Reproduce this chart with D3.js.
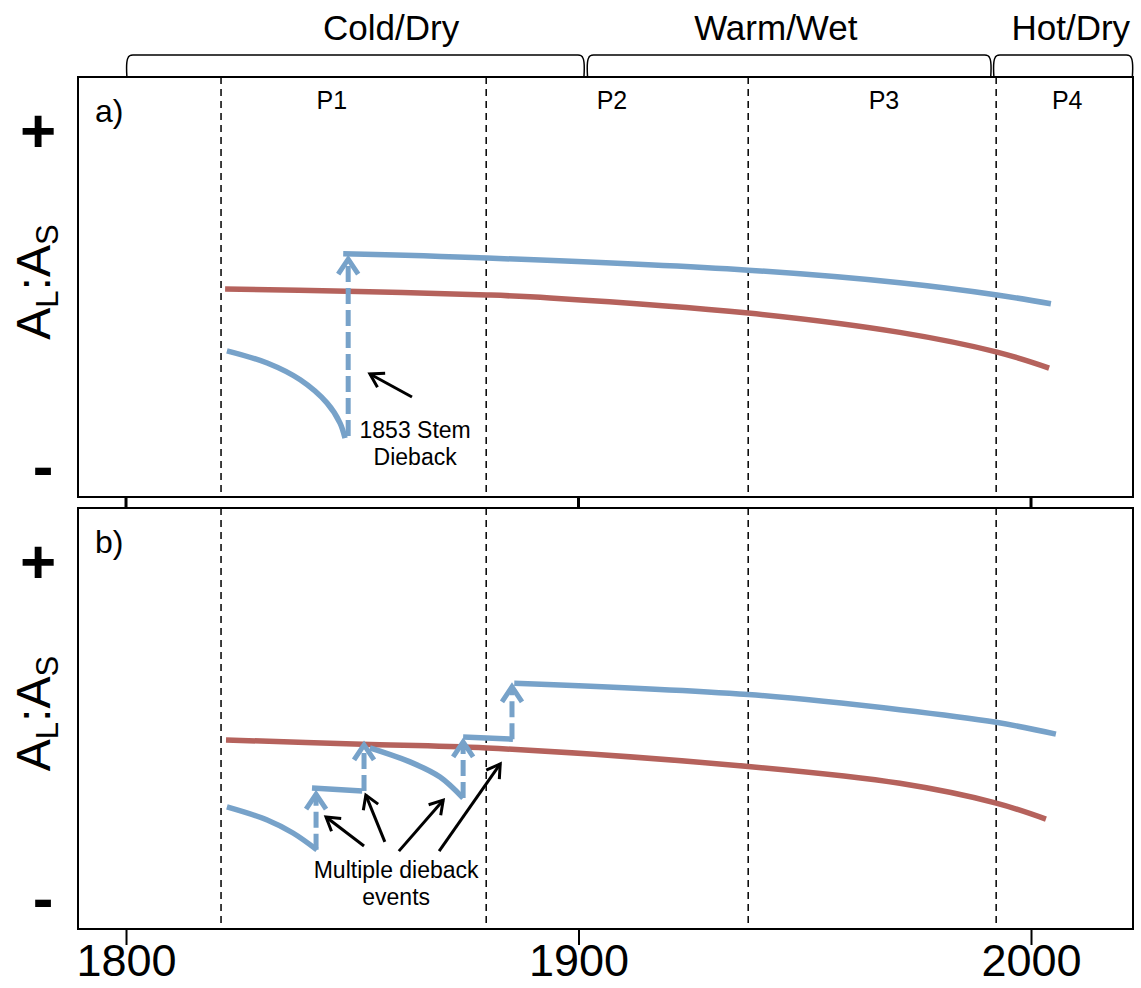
<!DOCTYPE html>
<html>
<head>
<meta charset="utf-8">
<script src="https://cdn.jsdelivr.net/npm/d3@7"></script>
<style>
  html, body { margin: 0; padding: 0; background: #fff; }
  svg { display: block; font-family: "Liberation Sans", Arial, sans-serif; }
</style>
</head>
<body>
<svg id="chart" width="1141" height="988"></svg>
<script>
// ---- data ----
const yearTicks = [1800, 1900, 2000]
const periodLines = [1821, 1879.6, 1937.5, 1992.3]
const periodNames = ['P1', 'P2', 'P3', 'P4']
const periodNameYears = [1845.5, 1907.4, 1967.5, 2008.0]

const climateNames = ['Cold/Dry', 'Warm/Wet', 'Hot/Dry']
const climateStart = [1800.2, 1902.0, 1991.8]
const climateEnd = [1901.2, 1991.1, 2022.4]
const climateNameYears = [1858.6, 1943.6, 2008.8]

// panel a) - single dieback
const redA = [[1821.9, 49.5], [1848.8, 49.0], [1879.8, 48.1], [1893.7, 47.4], [1937.5, 43.8], [1971.0, 39.2], [1992.5, 34.5], [2004.0, 30.7]]
const blueA = [
  [[1822.3, 34.8], [1831.2, 31.9], [1838.5, 27.9], [1844.4, 22.4], [1847.3, 17.6], [1848.4, 14.0]],
  [[1848.0, 57.9], [1879.8, 56.9], [1937.5, 54.0], [1971.0, 51.0], [1992.5, 48.1], [2004.4, 46.0]]
]
const diebackA = [[1849.1, 14.5, 57.1]]   // year, from, to
const notesA = [[1863.2, 23.8, 1853.9, 29.3]]   // tail year, tail val, head year, head val
const textA = ['1853 Stem', 'Dieback']
const textAPos = [[1863.9, 14.0], [1863.9, 7.6]]

// panel b) - multiple dieback events
const redB = [[1822.1, 44.9], [1852.2, 43.9], [1879.8, 43.0], [1937.5, 38.6], [1971.0, 34.6], [1992.3, 29.9], [2003.3, 26.1]]
const blueB = [
  [[1822.3, 29.0], [1831.2, 25.9], [1836.9, 22.8], [1842.2, 18.8]],
  [[1841.1, 33.5], [1852.2, 32.8]],
  [[1853.9, 43.0], [1863.4, 39.4], [1869.4, 36.1], [1874.5, 31.1]],
  [[1874.5, 45.6], [1885.5, 45.1]],
  [[1885.8, 58.4], [1937.5, 55.7], [1971.0, 52.1], [1992.3, 49.1], [2005.5, 46.3]]
]
const diebackB = [[1842.0, 18.8, 32.5], [1852.6, 32.8, 44.2], [1874.5, 31.1, 44.9], [1885.3, 45.1, 58.0]]
const notesB = [
  [1852.6, 19.7, 1844.2, 26.6],
  [1857.2, 20.7, 1853.0, 31.8],
  [1860.3, 18.5, 1870.1, 30.6],
  [1869.2, 18.5, 1882.7, 39.2]
]
const textB = ['Multiple dieback', 'events']
const textBPos = [[1859.7, 12.1], [1859.7, 5.7]]

// ---- styles ----
const BLUE = '#77a2c9'
const RED = '#b5625c'

const svg = d3.select('#chart')
svg.append('rect').attr('width', 1141).attr('height', 988).attr('fill', '#fff')

const x = d3.scaleLinear()
  .domain([1789.39, 2022.54])
  .range([78, 1133])

svg.append('defs').append('marker')
  .attr('id', 'head')
  .attr('markerUnits', 'userSpaceOnUse')
  .attr('viewBox', '-16 -10 20 20')
  .attr('markerWidth', 20).attr('markerHeight', 20)
  .attr('refX', 0).attr('refY', 0)
  .attr('orient', 'auto')
  .append('path')
  .attr('d', 'M-13,-8 L0,0 L-13,8')
  .attr('fill', 'none').attr('stroke', '#000').attr('stroke-width', 3)

// ---- climate braces on top ----
const braces = svg.append('g')
climateNames.forEach((name, i) => {
  let x0 = x(climateStart[i])
  let x1 = x(climateEnd[i])
  braces.append('path')
    .attr('d', `M${x0},77 Q${x0 - 1},62 ${x0 + 1},58 Q${x0 + 2},55 ${x0 + 6},55 L${x1 - 6},55 Q${x1 - 2},55 ${x1 - 1},58 Q${x1 + 1},62 ${x1},77`)
    .attr('fill', 'none').attr('stroke', '#000').attr('stroke-width', 1.5)
  braces.append('text')
    .attr('x', x(climateNameYears[i])).attr('y', 40)
    .attr('text-anchor', 'middle')
    .attr('font-size', 35)
    .text(name)
})

/**
 * Draw one panel with its lines, dieback arrows and notes.
 */
function drawPanel (top, bottom, tag, red, blue, dieback, notes, texts, textPos, labelP) {
  let y = d3.scaleLinear().domain([0, 100]).range([bottom, top])
  let g = svg.append('g')
  let line = d3.line().x((d) => x(d[0])).y((d) => y(d[1])).curve(d3.curveCatmullRom.alpha(0.5))

  // period separators
  g.selectAll('.period')
    .data(periodLines)
    .enter()
    .append('line')
    .attr('x1', (d) => x(d)).attr('x2', (d) => x(d))
    .attr('y1', top).attr('y2', bottom)
    .attr('stroke', '#000').attr('stroke-width', 1.5)
    .attr('stroke-dasharray', '7,5')

  if (labelP) {
    g.selectAll('.plabel')
      .data(periodNames)
      .enter()
      .append('text')
      .attr('x', (d, i) => x(periodNameYears[i]))
      .attr('y', top + 32)
      .attr('text-anchor', 'middle')
      .attr('font-size', 25)
      .text((d) => d)
  }

  g.append('path')
    .attr('d', line(red))
    .attr('fill', 'none').attr('stroke', RED).attr('stroke-width', 5.5)

  blue.forEach((seg) => {
    g.append('path')
      .attr('d', line(seg))
      .attr('fill', 'none').attr('stroke', BLUE).attr('stroke-width', 5.5)
  })

  dieback.forEach((d) => {
    let xx = x(d[0])
    g.append('line')
      .attr('x1', xx).attr('x2', xx)
      .attr('y1', y(d[1])).attr('y2', y(d[2]) + 4)
      .attr('stroke', BLUE).attr('stroke-width', 5)
      .attr('stroke-dasharray', '16,6')
    g.append('path')
      .attr('d', `M${xx - 10},${y(d[2]) + 17} L${xx},${y(d[2]) + 2} L${xx + 10},${y(d[2]) + 17}`)
      .attr('fill', 'none').attr('stroke', BLUE).attr('stroke-width', 5)
  })

  notes.forEach((n) => {
    g.append('line')
      .attr('x1', x(n[0])).attr('y1', y(n[1]))
      .attr('x2', x(n[2])).attr('y2', y(n[3]))
      .attr('stroke', '#000').attr('stroke-width', 3)
      .attr('marker-end', 'url(#head)')
  })

  texts.forEach((t, i) => {
    g.append('text')
      .attr('x', x(textPos[i][0])).attr('y', y(textPos[i][1]))
      .attr('text-anchor', 'middle')
      .attr('font-size', 23)
      .text(t)
  })

  // frame
  g.append('rect')
    .attr('x', 78).attr('y', top)
    .attr('width', 1133 - 78).attr('height', bottom - top)
    .attr('fill', 'none').attr('stroke', '#000').attr('stroke-width', 2)

  g.append('text')
    .attr('x', 95).attr('y', top + 45)
    .attr('font-size', 32)
    .text(tag)

  // y labels: + / - and A_L:A_S
  g.append('text')
    .attr('x', 38).attr('y', top + 75)
    .attr('text-anchor', 'middle')
    .attr('font-size', 62).attr('font-weight', 'bold')
    .text('+')
  g.append('text')
    .attr('x', 43).attr('y', bottom - 10)
    .attr('text-anchor', 'middle')
    .attr('font-size', 62).attr('font-weight', 'bold')
    .text('-')

  let cy = (top + bottom) / 2 - 5
  let lab = g.append('text')
    .attr('transform', `translate(50,${cy}) rotate(-90)`)
    .attr('text-anchor', 'middle')
    .attr('font-size', 48)
  lab.append('tspan').text('A')
  lab.append('tspan').attr('font-size', 31).attr('dy', 8).text('L')
  lab.append('tspan').attr('dy', -8).text(':A')
  lab.append('tspan').attr('font-size', 31).attr('dy', 8).text('S')

  return y
}

drawPanel(77, 497, 'a)', redA, blueA, diebackA, notesA, textA, textAPos, true)
drawPanel(508, 929, 'b)', redB, blueB, diebackB, notesB, textB, textBPos, false)

// tick stubs between panels
svg.selectAll('.midtick')
  .data(yearTicks)
  .enter()
  .append('line')
  .attr('x1', (d) => x(d)).attr('x2', (d) => x(d))
  .attr('y1', 497).attr('y2', 508)
  .attr('stroke', '#000').attr('stroke-width', 3)

// bottom axis
let axis = svg.append('g')
  .attr('transform', 'translate(0,929)')
  .call(d3.axisBottom(x).tickValues(yearTicks).tickFormat(d3.format('d')).tickSize(16))
axis.select('.domain').remove()
axis.selectAll('line').attr('stroke', '#000').attr('stroke-width', 2)
axis.selectAll('text')
  .attr('font-family', '"Liberation Sans", Arial, sans-serif')
  .attr('font-size', 45)
  .attr('fill', '#000')
  .attr('y', 47)
  .attr('dy', null)
</script>
</body>
</html>
